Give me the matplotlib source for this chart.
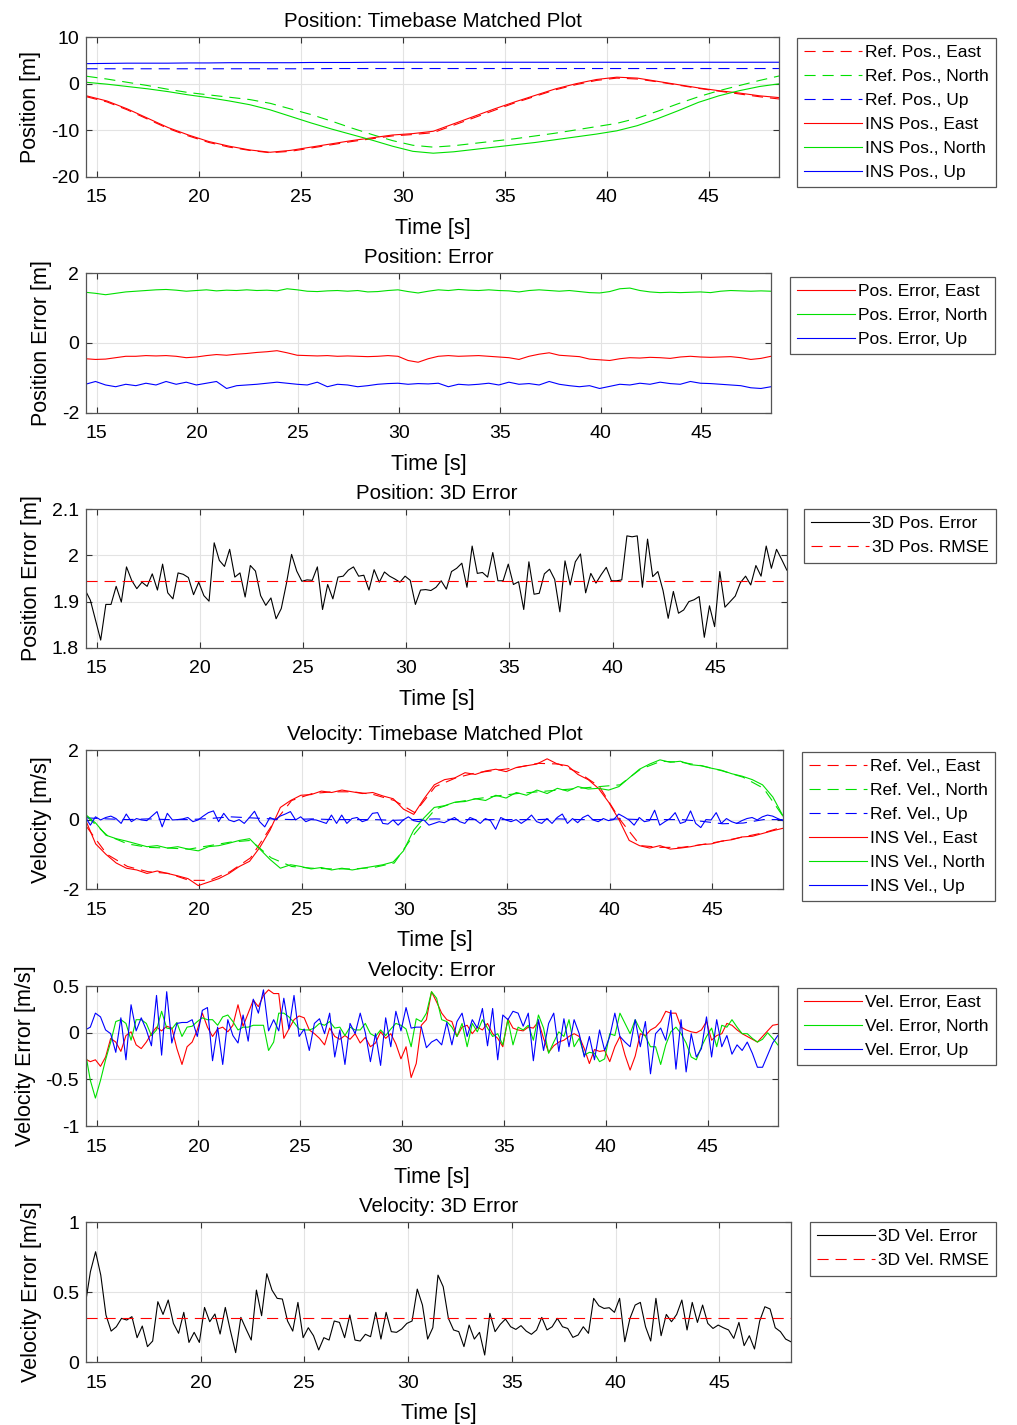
# INS vs reference: position / velocity timebase matched plots and errors

import numpy as np
import matplotlib.pyplot as plt
from matplotlib.ticker import FormatStrFormatter

plt.rcParams['font.family'] = ['Liberation Sans', 'DejaVu Sans']
plt.rcParams['lines.scale_dashes'] = False

RED = '#ff0000'
GREEN = '#00e000'
BLUE = '#0000ff'

# time bases [s]
t_fine = 14.44 + 0.25 * np.arange(137)
t_half = 14.45 + 0.5 * np.arange(69)
t_sec = 14.5 + np.arange(35)

# --- position [m], 1 s samples
ref_pos_e = [-2.8, -3.9, -5.6, -7.6, -9.6, -11.2, -12.6, -13.6, -14.3, -14.8,
             -14.5, -13.8, -13.1, -12.4, -11.8, -11.2, -10.9, -10.5, -8.9, -7.3,
             -5.7, -4.1, -2.7, -1.3, -0.2, 0.7, 1.2, 1.0, 0.4, -0.3,
             -1.0, -1.6, -2.2, -2.8, -3.3]
ref_pos_n = [1.6, 1.0, 0.3, -0.4, -1.2, -1.9, -2.4, -2.9, -3.4, -4.2,
             -5.4, -6.6, -8.0, -9.5, -10.9, -12.2, -13.2, -13.6, -13.3, -12.8,
             -12.3, -11.8, -11.2, -10.6, -9.9, -9.2, -8.5, -7.4, -5.9, -4.3,
             -2.8, -1.5, -0.4, 0.7, 1.7]
ref_pos_u = [3.2, 3.2, 3.2, 3.2, 3.2, 3.2, 3.2, 3.2, 3.2, 3.2,
             3.2, 3.2, 3.25, 3.25, 3.25, 3.25, 3.25, 3.25, 3.25, 3.25,
             3.25, 3.25, 3.25, 3.25, 3.25, 3.25, 3.25, 3.25, 3.25, 3.25,
             3.25, 3.25, 3.25, 3.25, 3.25]
ins_pos_e = [-2.6, -3.7, -5.4, -7.4, -9.4, -11.0, -12.4, -13.4, -14.2, -14.7,
             -14.3, -13.6, -12.9, -12.2, -11.6, -11.0, -10.7, -10.2, -8.6, -7.0,
             -5.4, -3.9, -2.5, -1.1, 0.0, 0.9, 1.4, 1.2, 0.5, -0.2,
             -0.9, -1.5, -2.0, -2.6, -3.0]
ins_pos_n = [0.3, -0.1, -0.6, -1.1, -1.7, -2.4, -3.0, -3.7, -4.5, -5.6,
             -7.0, -8.4, -9.7, -10.9, -12.1, -13.4, -14.5, -14.9, -14.6, -14.1,
             -13.6, -13.1, -12.6, -12.0, -11.4, -10.8, -10.1, -9.0, -7.5, -5.8,
             -4.0, -2.6, -1.5, -0.6, 0.0]
ins_pos_u = [4.3, 4.35, 4.4, 4.4, 4.4, 4.45, 4.45, 4.5, 4.5, 4.5,
             4.5, 4.55, 4.55, 4.55, 4.6, 4.6, 4.6, 4.6, 4.6, 4.6,
             4.6, 4.6, 4.6, 4.6, 4.6, 4.6, 4.6, 4.6, 4.6, 4.6,
             4.6, 4.6, 4.6, 4.6, 4.6]

# --- position error [m], 0.5 s samples
pos_err_e = [-0.45, -0.47, -0.46, -0.42, -0.38, -0.38, -0.36, -0.37, -0.36, -0.38,
             -0.42, -0.40, -0.36, -0.33, -0.35, -0.32, -0.30, -0.27, -0.25, -0.22,
             -0.28, -0.35, -0.36, -0.37, -0.36, -0.38, -0.37, -0.38, -0.39, -0.38,
             -0.36, -0.38, -0.50, -0.55, -0.45, -0.38, -0.36, -0.38, -0.37, -0.36,
             -0.38, -0.40, -0.42, -0.47, -0.38, -0.32, -0.28, -0.35, -0.37, -0.39,
             -0.46, -0.48, -0.50, -0.45, -0.42, -0.43, -0.41, -0.42, -0.44, -0.40,
             -0.38, -0.40, -0.41, -0.40, -0.39, -0.42, -0.47, -0.44, -0.38]
pos_err_n = [1.45, 1.42, 1.38, 1.42, 1.46, 1.48, 1.50, 1.52, 1.53, 1.51,
             1.48, 1.50, 1.52, 1.49, 1.51, 1.50, 1.52, 1.50, 1.51, 1.49,
             1.55, 1.52, 1.48, 1.47, 1.49, 1.50, 1.48, 1.50, 1.46, 1.47,
             1.50, 1.52, 1.47, 1.43, 1.48, 1.52, 1.50, 1.53, 1.51, 1.50,
             1.52, 1.50, 1.49, 1.46, 1.50, 1.52, 1.50, 1.48, 1.50, 1.47,
             1.44, 1.43, 1.47, 1.55, 1.57, 1.50, 1.46, 1.44, 1.45, 1.44,
             1.45, 1.46, 1.44, 1.48, 1.50, 1.49, 1.48, 1.49, 1.48]
pos_err_u = [-1.18, -1.10, -1.20, -1.25, -1.18, -1.22, -1.15, -1.20, -1.10, -1.18,
             -1.12, -1.20, -1.15, -1.10, -1.30, -1.22, -1.20, -1.18, -1.15, -1.12,
             -1.15, -1.18, -1.20, -1.12, -1.25, -1.18, -1.20, -1.25, -1.22, -1.18,
             -1.16, -1.15, -1.18, -1.16, -1.17, -1.15, -1.25, -1.18, -1.20, -1.18,
             -1.15, -1.20, -1.12, -1.18, -1.16, -1.20, -1.10, -1.18, -1.22, -1.25,
             -1.22, -1.30, -1.24, -1.18, -1.20, -1.15, -1.18, -1.12, -1.16, -1.18,
             -1.10, -1.15, -1.16, -1.18, -1.20, -1.22, -1.28, -1.30, -1.25]

# --- 3D position error [m], 0.25 s samples
pos_err_3d = [1.925, 1.903, 1.86, 1.817, 1.894, 1.894, 1.933, 1.899, 1.975, 1.946,
              1.928, 1.942, 1.933, 1.96, 1.925, 1.981, 1.919, 1.906, 1.962, 1.959,
              1.952, 1.915, 1.942, 1.913, 1.901, 2.027, 1.989, 1.976, 2.013, 1.953,
              1.962, 1.91, 1.978, 1.966, 1.913, 1.892, 1.908, 1.863, 1.885, 1.939,
              2.002, 1.966, 1.944, 1.947, 1.946, 1.975, 1.883, 1.937, 1.906, 1.953,
              1.955, 1.968, 1.975, 1.955, 1.957, 1.925, 1.969, 1.942, 1.964, 1.955,
              1.949, 1.942, 1.955, 1.946, 1.894, 1.925, 1.926,
              1.924, 1.931, 1.945, 1.927, 1.965, 1.972, 1.983, 1.931, 2.02, 1.961,
              1.963, 1.953, 2.006, 1.945, 1.945, 1.981, 1.937, 1.943, 1.883, 1.986,
              1.916, 1.918, 1.96, 1.97, 1.948, 1.878, 1.988, 1.936, 1.986, 2.003,
              1.919, 1.961, 1.94, 1.958, 1.974, 1.945, 1.945, 1.947, 2.042, 2.04,
              2.042, 1.931, 2.035, 1.954, 1.965, 1.924, 1.864, 1.922, 1.875, 1.882,
              1.9, 1.904, 1.911, 1.823, 1.891, 1.846, 1.965, 1.888, 1.9, 1.912,
              1.941, 1.955, 1.936, 1.978, 1.955, 2.02, 1.972, 2.013, 1.991, 1.968]
pos_rmse = 1.944

# --- velocity [m/s]
ref_vel_e = [-0.2, -1.0, -1.35, -1.5, -1.55, -1.75, -1.75, -1.5, -1.1, -0.2,
             0.55, 0.75, 0.8, 0.8, 0.72, 0.55, 0.2, 0.95, 1.2, 1.35,
             1.42, 1.5, 1.62, 1.6, 1.35, 0.95, 0.0, -0.75, -0.8, -0.8,
             -0.72, -0.62, -0.5, -0.38, -0.2]
ref_vel_n = [0.1, -0.45, -0.7, -0.8, -0.82, -0.85, -0.75, -0.65, -0.6, -1.1,
             -1.35, -1.4, -1.42, -1.42, -1.38, -1.25, -0.4, 0.3, 0.5, 0.6,
             0.68, 0.75, 0.8, 0.85, 0.9, 0.95, 1.0, 1.45, 1.68, 1.65,
             1.55, 1.4, 1.22, 0.9, 0.05]
ref_vel_u = [0.05, 0.02, 0.0, 0.02, 0.0, 0.0, 0.03, 0.08, 0.05, 0.02,
             0.0, 0.02, 0.0, 0.0, 0.0, -0.02, 0.0, 0.02, 0.0, 0.0,
             0.0, 0.0, 0.0, 0.02, 0.0, 0.0, 0.02, 0.0, 0.0, 0.0,
             -0.05, -0.12, -0.1, 0.0, 0.0]
ins_vel_e = [0.0, -0.7, -1.0, -1.25, -1.4, -1.45, -1.55, -1.48, -1.55, -1.62,
             -1.7, -1.9, -1.8, -1.7, -1.55, -1.35, -1.2, -0.8, -0.3, 0.35,
             0.55, 0.7, 0.72, 0.82, 0.78, 0.85, 0.8, 0.75, 0.78, 0.68,
             0.6, 0.3, 0.15, 0.6, 1.0, 1.15, 1.2, 1.35, 1.3, 1.4,
             1.45, 1.38, 1.5, 1.55, 1.6, 1.75, 1.6, 1.55, 1.3, 1.15,
             0.9, 0.5, 0.0, -0.6, -0.75, -0.82, -0.75, -0.85, -0.82, -0.78,
             -0.72, -0.7, -0.62, -0.58, -0.5, -0.48, -0.4, -0.32, -0.25]
ins_vel_n = [0.15, -0.1, -0.45, -0.55, -0.62, -0.7, -0.78, -0.75, -0.82, -0.78,
             -0.85, -0.9, -0.78, -0.75, -0.68, -0.6, -0.55, -0.85, -1.15, -1.4,
             -1.3, -1.35, -1.42, -1.38, -1.45, -1.4, -1.45, -1.4, -1.35, -1.3,
             -1.22, -0.9, -0.3, 0.05, 0.35, 0.4, 0.5, 0.52, 0.6, 0.55,
             0.7, 0.62, 0.78, 0.7, 0.85, 0.75, 0.9, 0.82, 0.95, 0.88,
             0.9, 0.85, 0.95, 1.2, 1.45, 1.6, 1.72, 1.65, 1.68, 1.58,
             1.55, 1.48, 1.42, 1.32, 1.25, 1.15, 1.0, 0.65, 0.1]
ins_vel_u = [0.08, -0.16, 0.08, -0.01, 0.06, 0.10, 0.03, -0.11, 0.16, -0.06,
             0.03, -0.01, -0.03, 0.10, 0.23, -0.21, 0.18, -0.01, 0.00, 0.02,
             0.06, -0.06, -0.01, 0.10, 0.20, 0.25, -0.06, 0.18, -0.01, -0.06,
             0.00, -0.11, 0.06, 0.24, -0.06, -0.21, 0.06, -0.01, 0.10, 0.16,
             0.23, -0.01, 0.08, -0.06, 0.00, -0.01, -0.06, -0.11, 0.13, -0.11,
             0.13, -0.11, 0.03, 0.06, -0.06, -0.01, 0.18, 0.20, -0.11, -0.13,
             -0.01, -0.16, -0.01, 0.08, -0.03, -0.06, -0.01,
             -0.16, -0.11, -0.06, -0.09, -0.01, 0.06, -0.06, -0.11, 0.06, 0.00,
             -0.11, 0.03, -0.03, -0.28, 0.06, -0.01, -0.06, 0.00, -0.11, -0.01,
             0.13, -0.06, -0.11, 0.03, -0.11, 0.06, 0.16, -0.11, 0.03, -0.09,
             0.06, 0.13, -0.01, -0.06, 0.03, -0.03, 0.00, 0.16, 0.08, -0.01,
             -0.16, 0.06, -0.06, -0.03, 0.27, -0.16, -0.06, 0.03, 0.20, -0.11,
             -0.06, 0.25, -0.11, -0.23, 0.00, -0.01, 0.20, -0.11, 0.03, -0.06,
             -0.11, -0.03, 0.03, 0.06, -0.01, 0.08, 0.13, 0.10, 0.03, -0.03]

# --- velocity error [m/s], 0.25 s samples
vel_err_e = [-0.28, -0.31, -0.29, -0.36, -0.26, -0.06, -0.10, -0.20, -0.03, 0.01,
             -0.13, -0.17, -0.10, -0.01, 0.06, 0.02, 0.07, 0.05, -0.17, -0.34,
             -0.15, -0.10, 0.03, 0.21, 0.06, -0.04, 0.04, 0.06, 0.01, 0.08,
             0.30, 0.07, 0.21, 0.35, 0.28, 0.40, 0.46, 0.42, 0.42, -0.06,
             0.04, 0.14, 0.18, 0.16, 0.03, -0.01, -0.06, -0.13, 0.05, -0.04,
             -0.07, -0.03, -0.07, -0.01, -0.11, -0.05, -0.15, -0.11, 0.01, -0.06,
             -0.01, -0.12, -0.28, -0.15, -0.48, -0.33, 0.08, 0.14,
             0.44, 0.33, 0.21, 0.14, 0.12, -0.04, 0.06, 0.08, -0.01, 0.06,
             0.03, 0.10, -0.01, -0.06, -0.15, 0.15, 0.05, 0.03, 0.02, 0.06,
             0.05, 0.12, -0.06, -0.21, -0.14, -0.10, -0.08, -0.04, -0.01, -0.04,
             -0.17, -0.33, -0.18, -0.20, -0.19, -0.31, -0.15, -0.04, -0.24, -0.40,
             -0.25, -0.01, -0.03, 0.03, 0.06, 0.12, 0.23, 0.21, 0.21, 0.06,
             0.03, 0.01, 0.00, 0.03, 0.12, -0.08, -0.03, -0.01, 0.10, 0.08,
             0.03, -0.01, -0.04, -0.07, -0.10, -0.04, 0.02, 0.08, 0.09]
vel_err_n = [-0.20, -0.51, -0.70, -0.51, -0.29, -0.10, 0.12, 0.14, 0.10, -0.08,
             0.14, 0.14, 0.10, -0.03, 0.03, 0.23, 0.05, 0.04, 0.11, -0.04,
             0.06, 0.07, 0.12, 0.16, 0.14, 0.14, 0.08, 0.17, 0.19, 0.12,
             0.03, 0.06, 0.06, 0.08, 0.08, 0.08, -0.19, -0.10, 0.21, 0.21,
             0.17, 0.11, 0.04, 0.03, 0.03, 0.05, 0.10, 0.08, 0.12, 0.05,
             0.06, -0.03, 0.06, 0.03, 0.03, 0.10, -0.01, -0.04, 0.03, -0.03,
             0.04, 0.10, 0.08, 0.04, -0.15, 0.15, 0.12, 0.21,
             0.44, 0.37, 0.14, 0.12, 0.06, -0.04, 0.10, -0.15, 0.10, 0.01,
             0.14, 0.05, -0.04, -0.01, -0.13, 0.14, -0.13, 0.06, 0.03, 0.08,
             -0.08, 0.19, 0.05, -0.22, -0.10, 0.01, -0.04, 0.14, -0.15, -0.06,
             -0.24, -0.21, -0.22, -0.31, -0.28, -0.01, -0.03, 0.21, 0.10, -0.01,
             0.14, 0.03, -0.04, -0.15, -0.15, -0.34, -0.13, 0.01, 0.06, -0.01,
             -0.11, -0.26, -0.29, -0.15, -0.04, 0.05, -0.15, 0.08, 0.06, 0.14,
             0.06, -0.01, -0.01, -0.06, -0.10, -0.07, 0.00, -0.06, -0.13]
vel_err_u = [0.03, 0.06, 0.21, 0.17, 0.03, -0.01, -0.21, 0.16, -0.29, 0.30,
             0.02, 0.16, 0.03, -0.14, 0.40, -0.24, 0.44, -0.11, 0.10, 0.11,
             0.11, 0.14, -0.04, 0.24, 0.27, -0.30, 0.06, -0.34, 0.14, -0.03,
             -0.11, 0.19, -0.09, 0.36, 0.21, 0.46, 0.02, 0.14, 0.02, 0.37,
             0.04, 0.40, -0.04, 0.04, -0.19, 0.10, 0.15, -0.01, 0.21, -0.26,
             0.03, -0.34, 0.10, -0.01, 0.21, 0.00, -0.31, -0.01, -0.35, 0.16,
             -0.15, 0.23, 0.02, 0.27, 0.05, 0.06, 0.06, -0.16,
             -0.10, -0.07, -0.13, 0.11, -0.13, 0.12, 0.21, -0.04, 0.14, 0.05,
             0.26, -0.14, 0.26, -0.29, 0.19, 0.14, 0.23, 0.21, 0.07, 0.21,
             -0.30, 0.14, -0.19, 0.10, 0.21, -0.20, 0.15, -0.15, 0.14, -0.01,
             -0.26, -0.04, -0.29, 0.03, -0.19, -0.04, 0.21, -0.04, -0.10, -0.15,
             0.14, -0.15, 0.12, -0.44, -0.01, 0.05, -0.08, 0.24, -0.39, 0.14,
             -0.42, -0.01, -0.26, -0.17, 0.17, -0.26, 0.14, -0.15, -0.03, -0.23,
             -0.13, -0.19, -0.10, -0.22, -0.37, -0.37, -0.24, -0.11, -0.03]

# --- 3D velocity error [m/s], 0.25 s samples
vel_err_3d = [0.407, 0.645, 0.788, 0.621, 0.336, 0.221, 0.252, 0.312, 0.3, 0.324,
              0.174, 0.257, 0.11, 0.15, 0.431, 0.34, 0.443, 0.276, 0.205, 0.355,
              0.14, 0.212, 0.14, 0.39, 0.288, 0.343, 0.2, 0.39, 0.221, 0.067,
              0.319, 0.236, 0.157, 0.514, 0.331, 0.631, 0.514, 0.455, 0.45, 0.293,
              0.221, 0.426, 0.174, 0.245, 0.188, 0.086, 0.174, 0.157, 0.293, 0.283,
              0.174, 0.336, 0.157, 0.15, 0.198, 0.181, 0.355, 0.164, 0.355, 0.217,
              0.212, 0.236, 0.276, 0.293, 0.521, 0.407, 0.164, 0.245, 0.621,
              0.538, 0.312, 0.229, 0.217, 0.11, 0.264, 0.164, 0.212, 0.05, 0.348,
              0.217, 0.269, 0.307, 0.252, 0.233, 0.26, 0.221, 0.198, 0.229, 0.319,
              0.229, 0.252, 0.312, 0.252, 0.24, 0.176, 0.193, 0.252, 0.205, 0.455,
              0.402, 0.383, 0.388, 0.355, 0.455, 0.145, 0.312, 0.407, 0.426, 0.252,
              0.15, 0.455, 0.188, 0.34, 0.288, 0.34, 0.443, 0.229, 0.426, 0.283,
              0.407, 0.276, 0.24, 0.264, 0.245, 0.229, 0.169, 0.283, 0.117, 0.188,
              0.093, 0.293, 0.395, 0.379, 0.245, 0.217, 0.164, 0.145]
vel_rmse = 0.312

XLIM = (14.48, 48.45)


def setup(ax, title, ylabel, ylim, yticks):
    ax.set_xlim(*XLIM)
    ax.set_ylim(*ylim)
    ax.set_xticks([15, 20, 25, 30, 35, 40, 45])
    ax.set_yticks(yticks)
    ax.yaxis.set_major_formatter(FormatStrFormatter('%g'))
    ax.grid(True, color='#e3e3e3', linewidth=0.8)
    ax.set_axisbelow(True)
    ax.tick_params(direction='in', top=True, right=True, length=4,
                   labelsize=14, color='#333333')
    ax.tick_params(axis='x', pad=9)
    ax.tick_params(axis='y', pad=5)
    for s in ax.spines.values():
        s.set_color('#555555')
        s.set_linewidth(0.9)
    ax.set_title(title, fontsize=14.8, pad=7)
    ax.set_xlabel('Time [s]', fontsize=15.5, labelpad=8)
    ax.set_ylabel(ylabel, fontsize=15.5, labelpad=7)


def legend(ax, x, y):
    leg = ax.legend(loc='upper left', bbox_to_anchor=(x, y), bbox_transform=fig.transFigure,
                    borderaxespad=0, fontsize=12.5, fancybox=False, framealpha=1,
                    edgecolor='#555555', handlelength=3.3, handletextpad=0.2,
                    labelspacing=0.5, borderpad=0.42)
    leg.get_frame().set_linewidth(0.9)


DASH = (8, 5)
LW = 0.8

fig = plt.figure(figsize=(10.17, 14.25), dpi=100)

# 1 position
ax1 = fig.add_axes([0.0846, 0.8758, 0.6814, 0.0982])
ax1.plot(t_sec, ref_pos_e, color=RED, lw=LW, dashes=DASH, label='Ref. Pos., East')
ax1.plot(t_sec, ref_pos_n, color=GREEN, lw=LW, dashes=DASH, label='Ref. Pos., North')
ax1.plot(t_sec, ref_pos_u, color=BLUE, lw=LW, dashes=DASH, label='Ref. Pos., Up')
ax1.plot(t_sec, ins_pos_e, color=RED, lw=LW, label='INS Pos., East')
ax1.plot(t_sec, ins_pos_n, color=GREEN, lw=LW, label='INS Pos., North')
ax1.plot(t_sec, ins_pos_u, color=BLUE, lw=LW, label='INS Pos., Up')
setup(ax1, 'Position: Timebase Matched Plot', 'Position [m]', (-20, 10), [-20, -10, 0, 10])
legend(ax1, 0.7837, 0.9733)

# 2 position error
ax2 = fig.add_axes([0.0846, 0.7102, 0.6735, 0.0982])
ax2.plot(t_half, pos_err_e, color=RED, lw=LW, label='Pos. Error, East')
ax2.plot(t_half, pos_err_n, color=GREEN, lw=LW, label='Pos. Error, North')
ax2.plot(t_half, pos_err_u, color=BLUE, lw=LW, label='Pos. Error, Up')
setup(ax2, 'Position: Error', 'Position Error [m]', (-2, 2), [-2, 0, 2])
legend(ax2, 0.7768, 0.8056)

# 3 position 3D error
ax3 = fig.add_axes([0.0846, 0.5453, 0.6893, 0.0975])
ax3.plot(t_fine, pos_err_3d, color='k', lw=LW, label='3D Pos. Error')
ax3.plot(XLIM, [pos_rmse, pos_rmse], color=RED, lw=LW, dashes=DASH, label='3D Pos. RMSE')
setup(ax3, 'Position: 3D Error', 'Position Error [m]', (1.8, 2.1), [1.8, 1.9, 2.0, 2.1])
legend(ax3, 0.7906, 0.6428)

# 4 velocity
ax4 = fig.add_axes([0.0846, 0.3761, 0.6854, 0.0975])
ax4.plot(t_sec, ref_vel_e, color=RED, lw=LW, dashes=DASH, label='Ref. Vel., East')
ax4.plot(t_sec, ref_vel_n, color=GREEN, lw=LW, dashes=DASH, label='Ref. Vel., North')
ax4.plot(t_sec, ref_vel_u, color=BLUE, lw=LW, dashes=DASH, label='Ref. Vel., Up')
ax4.plot(t_half, ins_vel_e, color=RED, lw=LW, label='INS Vel., East')
ax4.plot(t_half, ins_vel_n, color=GREEN, lw=LW, label='INS Vel., North')
ax4.plot(t_fine, ins_vel_u, color=BLUE, lw=LW, label='INS Vel., Up')
setup(ax4, 'Velocity: Timebase Matched Plot', 'Velocity [m/s]', (-2, 2), [-2, 0, 2])
legend(ax4, 0.7886, 0.4723)

# 5 velocity error
ax5 = fig.add_axes([0.0846, 0.2098, 0.6804, 0.0982])
ax5.plot(t_fine, vel_err_e, color=RED, lw=LW, label='Vel. Error, East')
ax5.plot(t_fine, vel_err_n, color=GREEN, lw=LW, label='Vel. Error, North')
ax5.plot(t_fine, vel_err_u, color=BLUE, lw=LW, label='Vel. Error, Up')
setup(ax5, 'Velocity: Error', 'Velocity Error [m/s]', (-1, 0.5), [-1, -0.5, 0, 0.5])
legend(ax5, 0.7837, 0.3067)

# 6 velocity 3D error
ax6 = fig.add_axes([0.0846, 0.0442, 0.6932, 0.0982])
ax6.plot(t_fine, vel_err_3d, color='k', lw=LW, label='3D Vel. Error')
ax6.plot(XLIM, [vel_rmse, vel_rmse], color=RED, lw=LW, dashes=DASH, label='3D Vel. RMSE')
setup(ax6, 'Velocity: 3D Error', 'Velocity Error [m/s]', (0, 1), [0, 0.5, 1])
legend(ax6, 0.7965, 0.1425)

fig.savefig('out.png', dpi=100)
